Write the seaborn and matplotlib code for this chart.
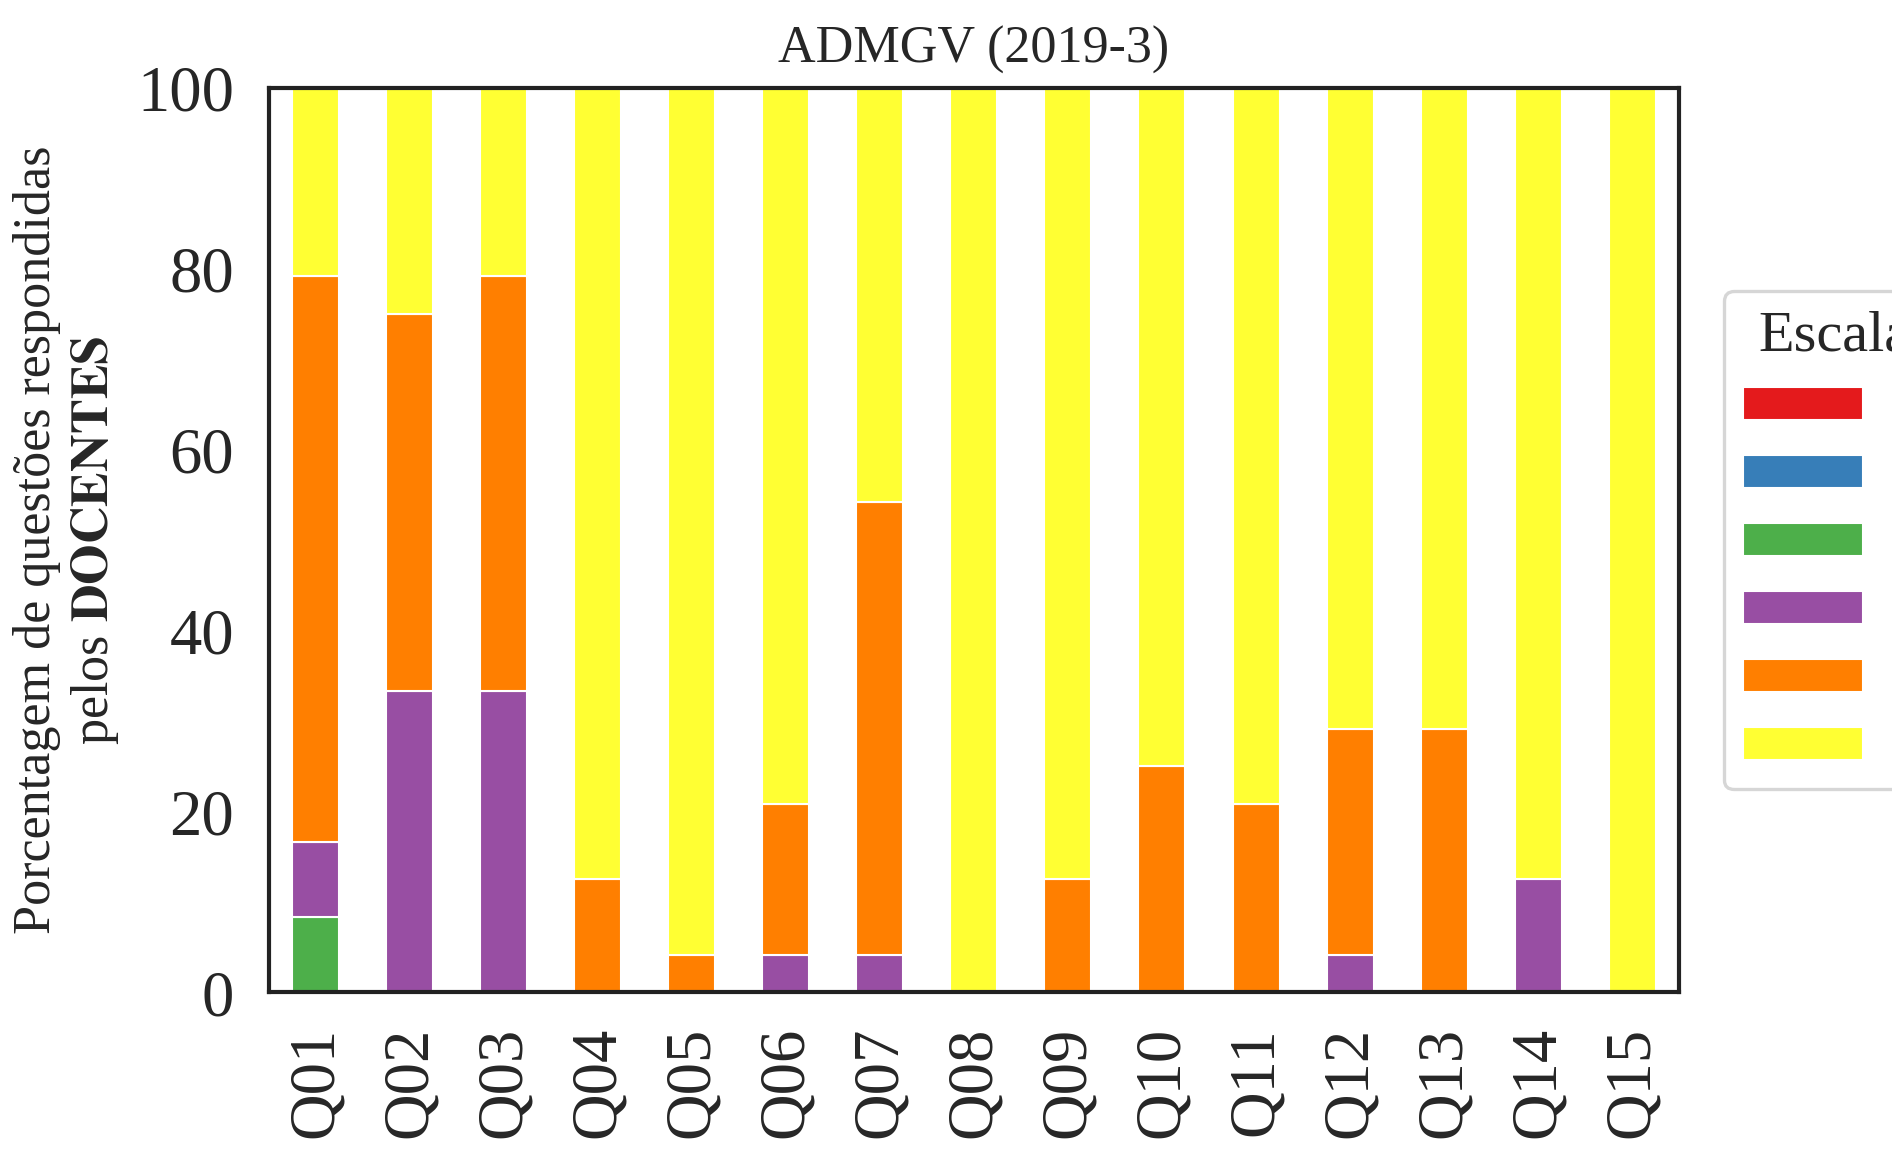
import numpy as np
import pandas as pd
import seaborn as sns
from matplotlib import pyplot as plt

sns.set_theme(style='white', context='paper')
plt.rcParams['font.family'] = ['Liberation Serif', 'DejaVu Serif']
plt.rcParams['mathtext.fontset'] = 'stix'

questions = ['Q%02d' % i for i in range(1, 16)]
s0 = [0] * 15
s1 = [0] * 15
s2 = [8.33, 0, 0, 0, 0, 0, 0, 0, 0, 0, 0, 0, 0, 0, 0]
s3 = [8.33, 33.33, 33.33, 0, 0, 4.17, 4.17, 0, 0, 0, 0, 4.17, 0, 12.5, 0]
s4 = [62.5, 41.67, 45.83, 12.5, 4.17, 16.67, 50.0, 0, 12.5, 25.0, 20.83, 25.0, 29.17, 0, 0]
s5 = [20.83, 25.0, 20.83, 87.5, 95.83, 79.17, 45.83, 100, 87.5, 75.0, 79.17, 70.83, 70.83, 87.5, 100]

df = pd.DataFrame({'0': s0, '1': s1, '2': s2, '3': s3, '4': s4, '5': s5}, index=questions)
colors = sns.color_palette('Set1', 6)
colors[5] = '#ffff33'

fig, ax = plt.subplots(figsize=(6.31, 3.86), dpi=300)
df.plot(kind='bar', stacked=True, color=colors, edgecolor='white', linewidth=0.5,
        width=0.5, ax=ax)
ax.set_ylim(0, 100)
ax.set_yticks([0, 20, 40, 60, 80, 100])
ax.tick_params(axis='x', labelsize=15.5, rotation=90)
ax.tick_params(axis='y', labelsize=15.5)
ax.set_title('ADMGV (2019-3)', fontsize=12.5)
ax.set_ylabel('Porcentagem de questões respondidas\npelos $\\mathbf{DOCENTES}$', fontsize=12.5)
for sp in ax.spines.values():
    sp.set_color('#222222')
ax.legend(title='Escala', loc='center left', bbox_to_anchor=(1.015, 0.5),
          fontsize=11.5, title_fontsize=14, handlelength=2.5)
fig.subplots_adjust(left=0.142, right=0.887, top=0.924, bottom=0.143)
plt.savefig('out.png', dpi=300)
